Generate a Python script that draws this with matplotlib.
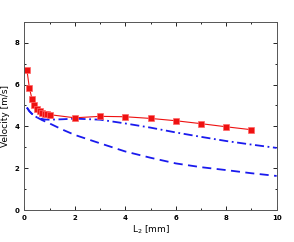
import numpy as np
import matplotlib
matplotlib.use("Agg")
import matplotlib.pyplot as plt
from matplotlib.ticker import MultipleLocator

# measured data (red squares)
x_meas = [0.1, 0.2, 0.3, 0.4, 0.5, 0.6, 0.7, 0.8, 0.9, 1.0, 2, 3, 4, 5, 6, 7, 8, 9]
v_meas = [6.69, 5.82, 5.32, 5.02, 4.85, 4.74, 4.66, 4.61, 4.58, 4.56, 4.41, 4.48, 4.46, 4.38, 4.27, 4.13, 3.98, 3.84]

# model curves
x_dd = [0.1, 0.2, 0.3, 0.4, 0.5, 0.6, 0.8, 1.0, 1.5, 2, 3, 4, 5, 6, 7, 8, 9, 10]
v_dd = [4.9, 4.72, 4.6, 4.5, 4.43, 4.38, 4.33, 4.32, 4.34, 4.37, 4.32, 4.14, 3.94, 3.71, 3.5, 3.3, 3.13, 2.97]

x_da = [0.1, 0.2, 0.3, 0.5, 0.7, 1.0, 1.5, 2, 3, 4, 5, 6, 7, 8, 9, 10]
v_da = [4.9, 4.72, 4.6, 4.43, 4.3, 4.14, 3.85, 3.59, 3.19, 2.8, 2.5, 2.23, 2.05, 1.91, 1.76, 1.63]

fig = plt.figure(figsize=(2.94, 2.42), dpi=100)
ax = fig.add_axes([0.083, 0.132, 0.858, 0.778])

ax.plot(x_da, v_da, color='#1a1aee', ls=(0, (5, 3)), lw=1.3)
ax.plot(x_dd, v_dd, color='#1a1aee', ls=(0, (5, 2, 1, 2)), lw=1.3)
ax.plot(x_meas, v_meas, color='#ee1111', lw=0.8, marker='s', ms=4.2,
        mfc='#ee1111', mec='#ff6666', mew=0.5)

ax.set_xlim(0, 10)
ax.set_ylim(0, 9)
ax.xaxis.set_major_locator(MultipleLocator(2))
ax.xaxis.set_minor_locator(MultipleLocator(1))
ax.yaxis.set_major_locator(MultipleLocator(2))
ax.yaxis.set_minor_locator(MultipleLocator(1))
ax.tick_params(which='both', direction='in', top=True, right=True, labelsize=5, width=0.6)
ax.tick_params(which='major', length=3)
ax.tick_params(which='minor', length=1.5)
for lab in ax.get_xticklabels() + ax.get_yticklabels():
    lab.set_fontweight('bold')
for s in ax.spines.values():
    s.set_linewidth(0.7)
    s.set_color('#555555')

ax.set_xlabel('L$_2$ [mm]', fontsize=6.5, labelpad=2)
ax.set_ylabel('Velocity [m/s]', fontsize=6.5, labelpad=3)

fig.savefig('out.png', dpi=100)
